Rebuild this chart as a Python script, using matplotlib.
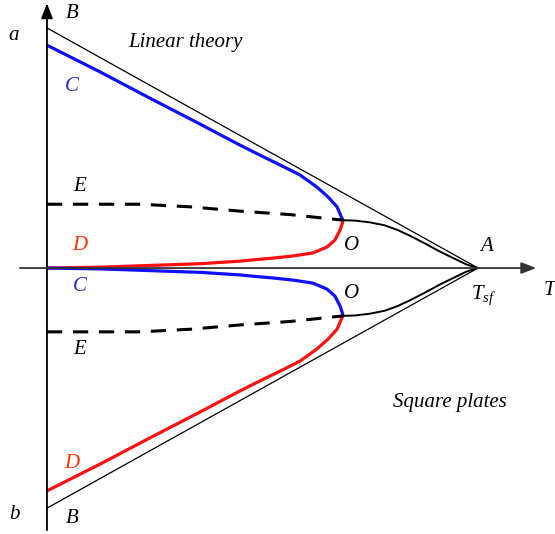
import matplotlib
matplotlib.use("Agg")
import matplotlib.pyplot as plt

plt.rcParams["mathtext.fontset"] = "custom"
plt.rcParams["mathtext.it"] = "Liberation Serif:italic"
plt.rcParams["mathtext.rm"] = "Liberation Serif"

# Schematic data (T normalised so that T_sf = 1)
B_T = [0.0, 1.0]
B_a_up = [0.557, 0.0]
B_a_lo = [-0.557, 0.0]

C_up_T = [0.0, 0.123, 0.239, 0.355, 0.448, 0.494, 0.541, 0.587, 0.626, 0.652, 0.673, 0.684, 0.687]
C_up_a = [0.517, 0.455, 0.394, 0.334, 0.285, 0.262, 0.239, 0.216, 0.188, 0.165, 0.142, 0.116, 0.111]

D_up_T = [0.687, 0.684, 0.680, 0.668, 0.650, 0.617, 0.571, 0.524, 0.478, 0.448, 0.355, 0.239, 0.123, 0.0]
D_up_a = [0.111, 0.100, 0.088, 0.065, 0.049, 0.035, 0.028, 0.023, 0.019, 0.016, 0.010, 0.006, 0.002, 0.0]

E_up_T = [0.0, 0.139, 0.216, 0.332, 0.448, 0.564, 0.687]
E_up_a = [0.148, 0.148, 0.148, 0.142, 0.132, 0.124, 0.111]

OA_T = [0.687, 0.715, 0.749, 0.784, 0.814, 0.842, 0.877, 0.912, 0.947, 0.974, 1.0]
OA_up_a = [0.111, 0.110, 0.106, 0.099, 0.088, 0.075, 0.057, 0.038, 0.021, 0.008, 0.0]

C_lo_T = [0.687, 0.684, 0.680, 0.668, 0.650, 0.617, 0.571, 0.524, 0.478, 0.448, 0.355, 0.239, 0.123, 0.0]
C_lo_a = [-0.111, -0.100, -0.088, -0.065, -0.049, -0.035, -0.028, -0.023, -0.019, -0.016, -0.010, -0.006, -0.002, 0.0]

D_lo_T = [0.0, 0.123, 0.239, 0.355, 0.448, 0.494, 0.541, 0.587, 0.626, 0.652, 0.673, 0.684, 0.687]
D_lo_a = [-0.517, -0.455, -0.394, -0.334, -0.285, -0.262, -0.239, -0.216, -0.188, -0.165, -0.142, -0.116, -0.111]

E_lo_T = [0.0, 0.139, 0.216, 0.332, 0.448, 0.564, 0.687]
E_lo_a = [-0.148, -0.148, -0.148, -0.142, -0.132, -0.124, -0.111]

OA_lo_a = [-0.111, -0.110, -0.106, -0.099, -0.088, -0.075, -0.057, -0.038, -0.021, -0.008, 0.0]

fig = plt.figure(figsize=(5.55, 5.34), dpi=100)
ax = fig.add_axes([0, 0, 1, 1])
ax.set_xlim(-0.109, 1.1787)
ax.set_ylim(-0.617, 0.6218)
ax.axis("off")

blue = "#1010ff"
red = "#ff1010"

# axes with arrows
ax.annotate("", xy=(0, 0.614), xytext=(0, -0.608),
            arrowprops=dict(arrowstyle="-|>,head_length=0.9,head_width=0.35", color="black", lw=1.3,
                            shrinkA=0, shrinkB=0))
ax.annotate("", xy=(1.135, 0), xytext=(-0.063, 0),
            arrowprops=dict(arrowstyle="-|>,head_length=0.9,head_width=0.35", color="#333333", lw=1.3,
                            shrinkA=0, shrinkB=0))

ax.plot(B_T, B_a_up, color="black", lw=0.9)
ax.plot(B_T, B_a_lo, color="black", lw=0.9)

for T, a, c in [(C_up_T, C_up_a, blue), (D_up_T, D_up_a, red),
                (C_lo_T, C_lo_a, blue), (D_lo_T, D_lo_a, red)]:
    ax.plot(T, a, color=c, lw=2.3, solid_capstyle="butt", solid_joinstyle="round")

ax.plot(E_up_T, E_up_a, color="black", lw=2.2, dashes=(5, 3.5))
ax.plot(E_lo_T, E_lo_a, color="black", lw=2.2, dashes=(5, 3.5))

ax.plot(OA_T, OA_up_a, color="black", lw=1.4, solid_joinstyle="round")
ax.plot(OA_T, OA_lo_a, color="black", lw=1.4, solid_joinstyle="round")

def px(x, y):
    return ((x - 47) / 431.0, (268 - y) / 431.0)

fs = 15
fam = ["Liberation Serif", "DejaVu Serif"]
def lab(s, x, y, color="black", size=fs):
    ax.text(*px(x, y), s, ha="center", va="center", fontsize=size, style="italic",
            family=fam, color=color)

lab("a", 14, 35)
lab("B", 72, 14)
lab("Linear theory", 185, 42)
lab("C", 72, 86, "#2a2ad0")
lab("E", 80, 186)
lab("D", 80, 245, "#ff3000")
lab("O", 352, 245)
lab("A", 487, 246)
lab("C", 80, 286, "#2a2ad0")
lab("O", 352, 293)
lab(r"$T_{sf}$", 484, 295)
lab("T", 549, 290)
lab("E", 80, 349)
lab("Square plates", 450, 402)
lab("D", 72, 463, "#ff3000")
lab("b", 14, 514)
lab("B", 72, 518)

fig.savefig("out.png", dpi=100)
